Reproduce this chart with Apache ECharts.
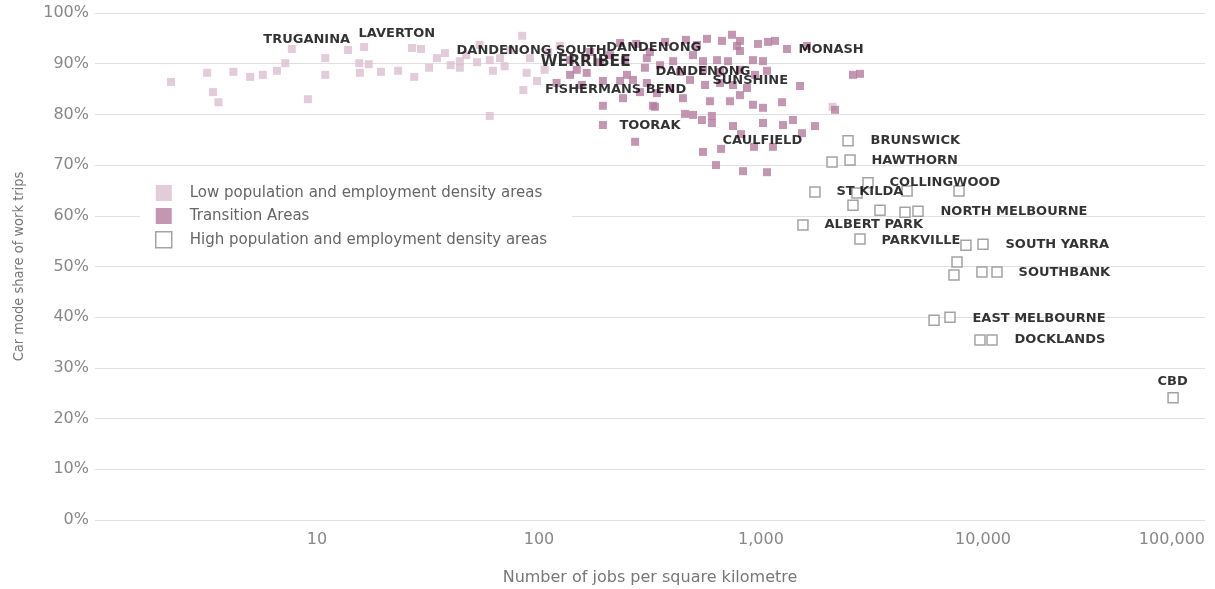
<!DOCTYPE html>
<html>
<head>
<meta charset="utf-8">
<title>Car mode share vs job density</title>
<script src="https://cdn.jsdelivr.net/npm/echarts@6/dist/echarts.min.js"></script>
<style>
  html, body { margin: 0; padding: 0; background: #fff; }
  #chart { width: 1215px; height: 589px; }
</style>
</head>
<body>
<div id="chart"></div>
<script>
// [jobs per km2, car share %]
const lowPoints = [
  [2.2, 86.4], [3.2, 88.2], [3.4, 84.4], [3.6, 82.4], [4.2, 88.4], [5.0, 87.4],
  [5.7, 87.8], [6.6, 88.6], [7.2, 90.1], [7.7, 92.9], [9.1, 83.0], [10.9, 91.1],
  [10.9, 87.8], [13.8, 92.7], [16.3, 93.3], [15.5, 90.1], [17.1, 89.9], [15.6, 88.2],
  [19.4, 88.4], [23.2, 88.6], [27.4, 87.4], [26.8, 93.1], [29.4, 92.9], [32, 89.2],
  [34.7, 91.1], [37.7, 92.1], [84, 95.5], [54, 93.7], [44, 90.5], [44, 89.2],
  [52.6, 90.3], [60, 90.7], [66.7, 91.1], [62, 88.6], [88, 88.2], [98, 86.6],
  [85, 84.8], [60, 79.7], [124, 93.5], [47, 91.7], [74, 92.7], [91, 91.1],
  [106, 88.8], [40, 89.7], [70, 89.5], [110, 92.3], [161, 91.1], [2100, 81.5]
]

const transitionPoints = [
  [120, 86.2], [148, 88.8], [164, 88.2], [194, 86.6], [232, 86.6], [249, 87.8],
  [265, 86.8], [239, 83.2], [194, 81.7], [326, 81.7], [194, 77.9], [306, 91.1],
  [188, 90.3], [138, 90.7], [740, 95.7], [667, 94.5], [571, 94.9], [804, 94.5],
  [780, 93.5], [804, 92.5], [969, 93.9], [1076, 94.3], [1156, 94.5], [1309, 92.9],
  [1611, 93.5], [515, 93.7], [494, 91.7], [316, 92.3], [402, 90.5], [548, 90.5],
  [710, 90.5], [920, 90.7], [1021, 90.5], [634, 90.7], [300, 89.2], [548, 88.8],
  [804, 88.8], [1064, 88.6], [940, 87.8], [306, 86.2], [560, 85.8], [654, 86.2],
  [748, 85.8], [865, 85.2], [1499, 85.6], [2596, 87.8], [2792, 88.0], [340, 84.2],
  [445, 83.2], [589, 82.6], [725, 82.6], [804, 83.8], [920, 81.9], [1021, 81.3],
  [1244, 82.4], [333, 81.5], [455, 80.1], [494, 79.9], [542, 78.9], [601, 79.7],
  [748, 77.7], [1021, 78.3], [1256, 77.9], [1393, 78.9], [1750, 77.7], [2154, 80.9],
  [601, 78.3], [813, 76.1], [1530, 76.3], [271, 74.6], [930, 73.6], [1132, 73.6],
  [548, 72.6], [661, 73.2], [627, 70.0], [830, 68.8], [1064, 68.6], [232, 94.1],
  [274, 93.9], [370, 94.3], [459, 94.7], [170, 92.3], [209, 91.7], [244, 90.7],
  [351, 89.7], [432, 88.4], [479, 86.8], [138, 87.8], [285, 84.4], [389, 85.2],
  [654, 88.4], [156, 85.8]
]

const highPoints = [
  [2466, 74.8], [2089, 70.6], [2518, 71.0], [3034, 66.5], [1750, 64.7], [2706, 64.5],
  [4550, 64.9], [2596, 62.1], [3436, 61.1], [4454, 60.7], [5095, 60.9], [7798, 64.9],
  [1545, 58.2], [2792, 55.4], [8380, 54.2], [10000, 54.4], [7638, 50.9], [7400, 48.3],
  [9890, 48.9], [11560, 48.9], [6018, 39.4], [7100, 40.0], [9690, 35.5], [10980, 35.5],
  [71800, 24.1]
]

// area labels, anchored at the left end of the text
const labelNames = [
  'TRUGANINA', 'LAVERTON', 'DANDENONG SOUTH', 'DANDENONG', 'WERRIBEE', 'DANDENONG',
  'SUNSHINE', 'FISHERMANS BEND', 'MONASH', 'TOORAK', 'CAULFIELD', 'BRUNSWICK',
  'HAWTHORN', 'COLLINGWOOD', 'ST KILDA', 'NORTH MELBOURNE', 'ALBERT PARK', 'PARKVILLE',
  'SOUTH YARRA', 'SOUTHBANK', 'EAST MELBOURNE', 'DOCKLANDS', 'CBD'
]
const labelAt = [
  [5.7, 94.7], [15.3, 95.9], [42.3, 92.5], [200, 93.1], [101, 90.3], [333, 88.4],
  [601, 86.6], [106, 84.8], [1468, 92.7], [229, 77.7], [667, 74.8], [3097, 74.8],
  [3128, 70.8], [3773, 66.5], [2177, 64.7], [6400, 60.9], [1923, 58.2], [3473, 55.2],
  [12560, 54.4], [14380, 48.7], [8920, 39.8], [13800, 35.5], [60800, 27.2]
]

const seriesNames = [
  'Low population and employment density areas',
  'Transition Areas',
  'High population and employment density areas'
]
const yTicks = [0, 10, 20, 30, 40, 50, 60, 70, 80, 90, 100]

const font = 'DejaVu Sans'
const chart = echarts.init(document.getElementById('chart'))

chart.setOption({
  animation: false,
  grid: { left: 95, right: 10, top: 13, bottom: 69, outerBoundsMode: 'none' },
  legend: {
    orient: 'vertical',
    left: 140,
    top: 179,
    padding: [6, 25, 6, 15],
    itemGap: 7,
    itemWidth: 16,
    itemHeight: 16,
    backgroundColor: '#fff',
    selectedMode: false,
    textStyle: { fontFamily: font, fontSize: 15, color: '#666', padding: [0, 0, 0, 13] },
    data: [
      { name: seriesNames[0], icon: 'rect' },
      { name: seriesNames[1], icon: 'rect' },
      { name: seriesNames[2], icon: 'rect', itemStyle: { color: '#fff', borderColor: '#8c8c8c', borderWidth: 1.5 } }
    ]
  },
  xAxis: {
    type: 'log',
    logBase: 10,
    min: 1,
    max: 100000,
    name: 'Number of jobs per square kilometre',
    nameLocation: 'middle',
    nameGap: 50,
    nameTextStyle: { fontFamily: font, fontSize: 16, color: '#777' },
    axisLine: { show: false },
    axisTick: { show: false },
    splitLine: { show: false },
    axisLabel: {
      showMinLabel: false,
      alignMaxLabel: 'right',
      margin: 12,
      fontFamily: font,
      fontSize: 16,
      color: '#888',
      formatter: v => Number(v).toLocaleString('en-US')
    }
  },
  yAxis: {
    type: 'value',
    min: yTicks[0],
    max: yTicks[yTicks.length - 1],
    interval: 10,
    name: 'Car mode share of work trips',
    nameLocation: 'middle',
    nameGap: 68,
    nameTextStyle: { fontFamily: "'DejaVu Sans Condensed', 'Liberation Sans', sans-serif", fontSize: 14.5, color: '#777' },
    axisLine: { show: false },
    axisTick: { show: false },
    splitLine: { lineStyle: { color: '#e0e0e0', width: 1 } },
    axisLabel: {
      margin: 6,
      fontFamily: font,
      fontSize: 16,
      color: '#888',
      formatter: '{value}%'
    }
  },
  series: [
    {
      name: seriesNames[0],
      type: 'scatter',
      symbol: 'rect',
      symbolSize: 8,
      itemStyle: { color: '#dbbfd1' },
      data: lowPoints
    },
    {
      name: seriesNames[1],
      type: 'scatter',
      symbol: 'rect',
      symbolSize: 8,
      itemStyle: { color: '#b47c9f' },
      data: transitionPoints
    },
    {
      name: seriesNames[2],
      type: 'scatter',
      symbol: 'rect',
      symbolSize: 10,
      itemStyle: { color: '#fff', borderColor: '#8c8c8c', borderWidth: 1.5 },
      data: highPoints
    },
    {
      name: 'labels',
      type: 'scatter',
      silent: true,
      symbolSize: 1,
      z: 5,
      itemStyle: { color: 'transparent' },
      label: {
        show: true,
        position: 'right',
        distance: 0,
        formatter: '{b}',
        fontFamily: font,
        fontWeight: 'bold',
        fontSize: 13,
        color: '#000'
      },
      data: labelNames.map((n, i) => ({
        name: n,
        value: labelAt[i],
        label: n === 'WERRIBEE' ? { fontSize: 15.5 } : undefined
      }))
    }
  ]
})

window.addEventListener('resize', () => chart && chart.resize())
</script>
</body>
</html>
